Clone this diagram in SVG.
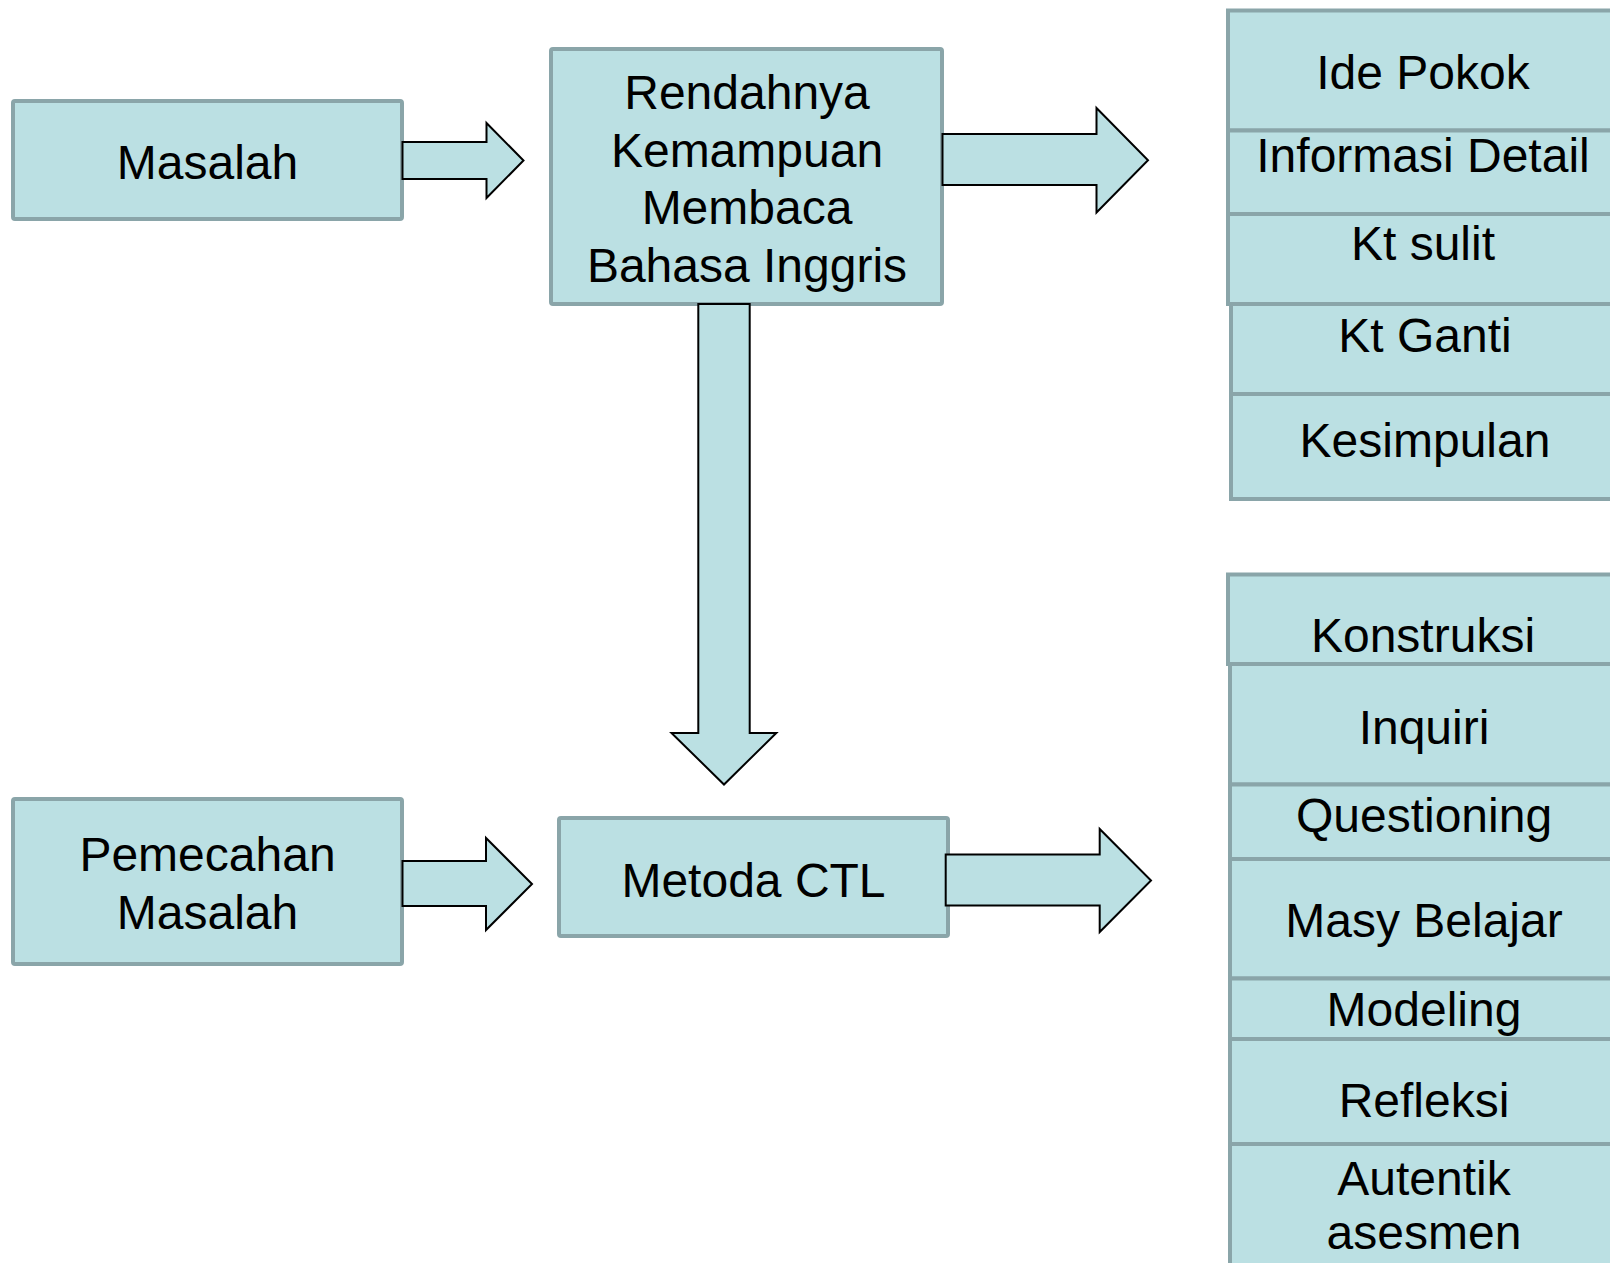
<svg xmlns="http://www.w3.org/2000/svg" width="1610" height="1263" viewBox="0 0 1610 1263">
<style>
.box{fill:#bbe0e3;stroke:#8aa5a9;stroke-width:4}
.arr{fill:#bbe0e3;stroke:#000;stroke-width:2;stroke-linejoin:miter}
text{font-family:"Liberation Sans",Arial,sans-serif;font-size:48px;fill:#000;text-anchor:middle}
</style>
<rect width="1610" height="1263" fill="#fff"/>
<g id="masalah"><rect class="box" x="13" y="101" width="389" height="118" rx="2"/><text x="207.5" y="179">Masalah</text></g>
<g id="rendahnya"><rect class="box" x="551" y="49" width="391" height="255" rx="2"/>
<text x="747" y="108.5">Rendahnya</text><text x="747" y="166.5">Kemampuan</text><text x="747" y="224">Membaca</text><text x="747" y="281.5">Bahasa Inggris</text></g>
<g id="pemecahan"><rect class="box" x="13" y="799" width="389" height="165" rx="2"/><text x="207.5" y="870.5">Pemecahan</text><text x="207.5" y="929">Masalah</text></g>
<g id="metoda"><rect class="box" x="559" y="818" width="389" height="118" rx="2"/><text x="753.5" y="897">Metoda CTL</text></g>
<g id="ide-pokok"><rect class="box" x="1228" y="10.5" width="392" height="120"/><text x="1423" y="88.5">Ide Pokok</text></g>
<g id="informasi-detail"><rect class="box" x="1228" y="130.5" width="392" height="83.5"/><text x="1423" y="171.5">Informasi Detail</text></g>
<g id="kt-sulit"><rect class="box" x="1228" y="214" width="392" height="90"/><text x="1423" y="260">Kt sulit</text></g>
<g id="kt-ganti"><rect class="box" x="1231" y="304" width="392" height="90"/><text x="1425" y="351.5">Kt Ganti</text></g>
<g id="kesimpulan"><rect class="box" x="1231" y="394" width="392" height="105"/><text x="1425" y="456.5">Kesimpulan</text></g>
<g id="konstruksi"><rect class="box" x="1228" y="574.5" width="392" height="89.5"/><text x="1423" y="652">Konstruksi</text></g>
<g id="inquiri"><rect class="box" x="1230" y="664" width="392" height="120.5"/><text x="1424" y="743.5">Inquiri</text></g>
<g id="questioning"><rect class="box" x="1230" y="784.5" width="392" height="74.5"/><text x="1424" y="832">Questioning</text></g>
<g id="masy-belajar"><rect class="box" x="1230" y="859" width="392" height="119.5"/><text x="1424" y="937">Masy Belajar</text></g>
<g id="modeling"><rect class="box" x="1230" y="978.5" width="392" height="60.5"/><text x="1424" y="1025.5">Modeling</text></g>
<g id="refleksi"><rect class="box" x="1230" y="1039" width="392" height="105"/><text x="1424" y="1116.5">Refleksi</text></g>
<g id="autentik"><rect class="box" x="1230" y="1144" width="392" height="130"/><text x="1424" y="1195">Autentik</text><text x="1424" y="1249">asesmen</text></g>
<g id="connectors">
<polygon class="arr" points="402.5,142 486.5,142 486.5,123 523.5,160.5 486.5,198 486.5,179 402.5,179"/>
<polygon class="arr" points="942.5,134 1096.5,134 1096.5,108 1148,160.3 1096.5,212.5 1096.5,185 942.5,185"/>
<polygon class="arr" points="698.3,304 749.7,304 749.7,733 776.3,733 724,784.5 671.5,733 698.3,733"/>
<polygon class="arr" points="402.5,861 486,861 486,838 532,884 486,930 486,906 402.5,906"/>
<polygon class="arr" points="945.7,854.5 1099.7,854.5 1099.7,829 1151,880.5 1099.7,932 1099.7,905.5 945.7,905.5"/>
</g>
</svg>
